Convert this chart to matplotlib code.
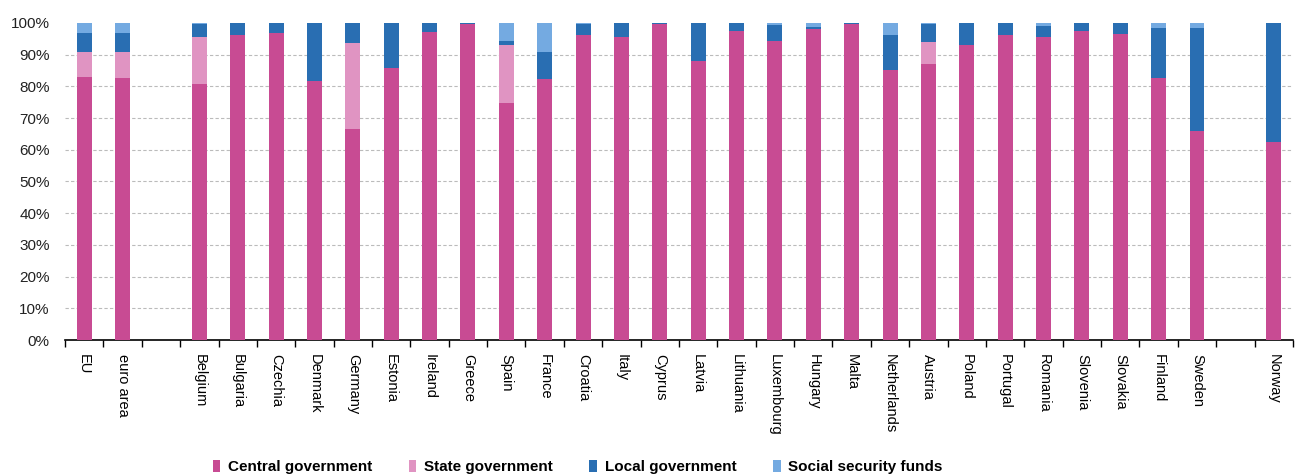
import matplotlib
matplotlib.use("Agg")
import matplotlib.pyplot as plt
import numpy as np

# ---------------------------------------------------------------------------
# Data (share of total, %), "" marks an empty gap slot
# ---------------------------------------------------------------------------
countries = ["EU", "euro area", "", "Belgium", "Bulgaria", "Czechia", "Denmark",
             "Germany", "Estonia", "Ireland", "Greece", "Spain", "France",
             "Croatia", "Italy", "Cyprus", "Latvia", "Lithuania", "Luxembourg",
             "Hungary", "Malta", "Netherlands", "Austria", "Poland", "Portugal",
             "Romania", "Slovenia", "Slovakia", "Finland", "Sweden", "", "Norway"]
central = [83.0, 82.6, 0, 80.6, 96.1, 96.8, 81.8, 66.6, 85.9, 97.3, 99.6, 74.7,
           82.2, 96.3, 95.6, 99.6, 87.9, 97.6, 94.4, 98.0, 99.8, 85.1, 87.2,
           93.2, 96.1, 95.6, 97.6, 96.4, 82.6, 65.9, 0, 62.6]
state = [8.0, 8.4, 0, 15.0, 0, 0, 0, 27.0, 0, 0, 0, 18.5, 0, 0, 0, 0, 0, 0, 0,
         0, 0, 0, 6.7, 0, 0, 0, 0, 0, 0, 0, 0, 0]
local = [5.8, 5.8, 0, 4.1, 3.9, 3.2, 18.2, 6.4, 14.1, 2.7, 0.4, 1.2, 8.5, 3.4,
         4.4, 0.4, 12.1, 2.4, 4.9, 0.8, 0.2, 11.0, 5.8, 6.8, 3.9, 3.3, 2.4,
         3.6, 15.8, 32.5, 0, 37.4]
social = [3.2, 3.2, 0, 0.3, 0, 0, 0, 0, 0, 0, 0, 5.6, 9.3, 0.3, 0, 0, 0, 0, 0.7,
          1.2, 0, 3.9, 0.3, 0, 0, 1.1, 0, 0, 1.6, 1.6, 0, 0]

series = [
    ("Central government", central, "#C84B93"),
    ("State government", state, "#E094C2"),
    ("Local government", local, "#296EB2"),
    ("Social security funds", social, "#74AAE1"),
]

plt.rcParams["font.family"] = ["Liberation Sans", "DejaVu Sans"]

fig = plt.figure(figsize=(12.98, 4.74), dpi=100)
ax = fig.add_axes([0.0501, 0.2827, 0.9460, 0.6688])

x = np.arange(len(countries))
bottom = np.zeros(len(countries))
for name, vals, color in series:
    vals = np.array(vals)
    ax.bar(x, vals, 0.39, bottom=bottom, color=color, label=name,
           linewidth=0, zorder=3)
    bottom += vals

ax.set_xlim(-0.5, len(countries) - 0.5)
ax.set_ylim(0, 100)
ax.set_yticks(np.arange(0, 101, 10))
ax.set_yticklabels([f"{v}%" for v in range(0, 101, 10)], fontsize=11, color="#222222")
ax.tick_params(axis="y", length=0, pad=11)
for y in range(10, 100, 10):
    ax.axhline(y, color="#bbbbbb", linestyle=(0, (3, 2)), linewidth=0.8, zorder=1)

ax.set_xticks(x)
ax.set_xticklabels(countries, rotation=270, fontsize=10.5, va="top", ha="center")
ax.tick_params(axis="x", which="major", length=0, pad=10)
ax.set_xticks(np.arange(-0.5, len(countries), 1), minor=True)
ax.tick_params(axis="x", which="minor", length=5, width=1, color="black")

for side in ["top", "right", "left"]:
    ax.spines[side].set_visible(False)
ax.spines["bottom"].set_linewidth(1.2)

fig.legend(loc="lower center", bbox_to_anchor=(0.445, -0.03), ncol=4, frameon=False,
           handlelength=0.5, handleheight=0.8, handletextpad=0.5, columnspacing=2.4,
           prop={"size": 11, "weight": "bold"})

fig.savefig("out.png", dpi=100)
